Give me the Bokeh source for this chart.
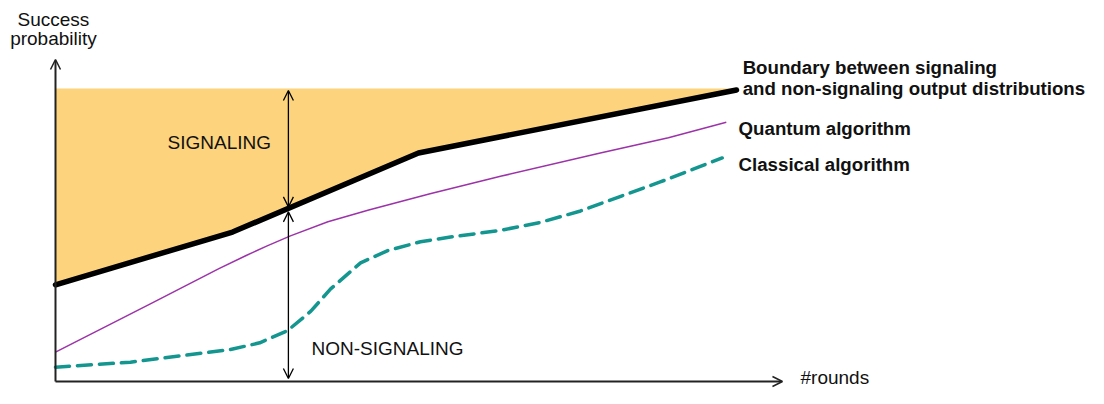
from bokeh.plotting import figure
from bokeh.models import Range1d, Arrow, OpenHead, Label
from bokeh.embed import file_html
from bokeh.resources import INLINE

# ---- data (schematic units: x = rounds, y = success probability) ----
boundary_x = [0.0, 2.6, 5.33, 10.0]
boundary_y = [0.33, 0.51, 0.78, 0.995]
signal_top = 1.0

quantum_x = [0.0, 1.4, 2.4, 2.8, 3.1, 3.45, 4.0, 4.6, 5.5, 6.55, 8.0, 9.0, 9.85]
quantum_y = [0.10, 0.266, 0.385, 0.430, 0.462, 0.497, 0.545, 0.585, 0.641, 0.701,
             0.780, 0.832, 0.885]

classical_x = [0.0, 1.1, 2.57, 3.0, 3.41, 3.75, 4.04, 4.48, 4.88, 5.36, 5.8, 6.54,
               7.12, 7.71, 8.3, 8.88, 9.47, 9.79]
classical_y = [0.049, 0.066, 0.109, 0.132, 0.174, 0.240, 0.316, 0.405, 0.447, 0.477,
               0.493, 0.516, 0.543, 0.582, 0.632, 0.681, 0.734, 0.763]

legend_labels = ["Boundary between signaling", "and non-signaling output distributions",
                 "Quantum algorithm", "Classical algorithm"]
region_labels = ["SIGNALING", "NON-SIGNALING"]
axis_labels = ["Success", "probability", "#rounds"]

FONT = "Liberation Sans"

p = figure(width=1088, height=388, output_backend="svg", toolbar_location=None,
           x_range=Range1d(-0.8076, 15.1689), y_range=Range1d(-0.02389, 1.3003),
           min_border=0)
p.axis.visible = False
p.grid.visible = False
p.outline_line_color = None
p.background_fill_color = "white"

# signaling region fill
p.varea(x=boundary_x, y1=boundary_y, y2=[signal_top] * len(boundary_x),
        fill_color="#fdd47d", fill_alpha=1.0)

# curves
p.line(classical_x, classical_y, line_color="#13968f", line_width=3.5,
       line_dash="14 8", line_cap="round", line_join="round")
p.line(quantum_x, quantum_y, line_color="#9c33a8", line_width=1.5,
       line_join="round")
p.line(boundary_x, boundary_y, line_color="black", line_width=5.5,
       line_cap="round", line_join="round")

# axes with arrows
axc = "#222222"
p.add_layout(Arrow(end=OpenHead(size=10, line_width=1.5, line_color=axc),
                   x_start=0, y_start=0, x_end=0, y_end=1.099,
                   line_width=2, line_color=axc))
p.add_layout(Arrow(end=OpenHead(size=10, line_width=1.5, line_color=axc),
                   x_start=0, y_start=0, x_end=10.675, y_end=0,
                   line_width=2, line_color=axc))

# double-headed arrows
ax_x = 3.42
p.add_layout(Arrow(start=OpenHead(size=10, line_width=1.3),
                   end=OpenHead(size=10, line_width=1.3),
                   x_start=ax_x, y_start=0.993, x_end=ax_x, y_end=0.596,
                   line_width=1.3, line_color="black"))
p.add_layout(Arrow(start=OpenHead(size=10, line_width=1.3),
                   end=OpenHead(size=10, line_width=1.3),
                   x_start=ax_x, y_start=0.579, x_end=ax_x, y_end=0.01,
                   line_width=1.3, line_color="black"))

def lab(x, y, t, size="19px", bold=False, align="left", baseline="alphabetic"):
    p.add_layout(Label(x=x, y=y, text=t, text_font=FONT, text_font_size=size,
                       text_font_style="bold" if bold else "normal",
                       text_align=align, text_baseline=baseline,
                       text_color="#111111"))

lab(-0.03, 1.235, axis_labels[0], align="center")
lab(-0.03, 1.170, axis_labels[1], align="center")
lab(10.94, -0.0205, axis_labels[2], baseline="bottom")

lab(1.645, 0.816, region_labels[0])
lab(3.759, 0.112, region_labels[1])

lab(10.09, 1.073, legend_labels[0], size="18.7px", bold=True)
lab(10.09, 1.001, legend_labels[1], size="18.7px", bold=True)
lab(10.03, 0.862, legend_labels[2], size="18.7px", bold=True)
lab(10.03, 0.740, legend_labels[3], size="18.7px", bold=True)

open("out.html", "w").write(file_html(p, INLINE))
